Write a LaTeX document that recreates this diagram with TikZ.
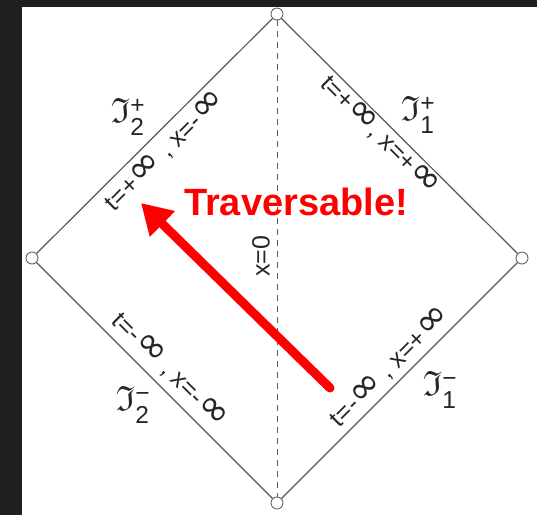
\documentclass[tikz,border=0pt]{standalone}
\usepackage{amsmath,amssymb}
\usepackage{fontspec}
\setmainfont{Liberation Sans}
\newfontfamily\symfam{DejaVu Sans}
\usetikzlibrary{arrows.meta}

% big infinity sign for the edge labels
\newcommand{\infy}{{\symfam\fontsize{39}{39}\selectfont ∞}}
\newcommand{\scri}{\mathfrak{I}}

\begin{document}
\begin{tikzpicture}[x=1pt, y=-1pt,
  vtx/.style={circle, draw=black!60, fill=white, line width=0.9pt, inner sep=0pt, minimum size=12pt},
  edge/.style={draw=black!65, line width=1.2pt},
  lbl/.style={font=\fontsize{25}{25}\selectfont, text=black!85, inner sep=0pt},
  scrilbl/.style={font=\fontsize{35}{35}\selectfont, text=black!85, inner sep=0pt}]

        % ==========================================
        % Background: dark frame, white sheet
        % ==========================================
        \fill[black!88] (0,0) rectangle (537,515);
        \fill[white] (22,7) rectangle (537,515);
        \useasboundingbox (0,0) rectangle (537,515);

        % ==========================================
        % Diamond and its corners
        % ==========================================
        \node[vtx] (top)    at (277,14)  {};
        \node[vtx] (right)  at (522,258) {};
        \node[vtx] (bottom) at (277,503) {};
        \node[vtx] (left)   at (32,258)  {};

        \draw[edge] (top) -- (right) -- (bottom) -- (left) -- (top);
        \draw[edge, line width=0.8pt, dash pattern=on 6pt off 5pt] (top) -- (bottom);
        \node[lbl, rotate=90] (xzero) at (261,256) {x=0};

        % ==========================================
        % Edge labels
        % ==========================================
        \node[lbl, rotate=45]  (ulab) at (165,151) {t=+\infy\ , x=-\infy};
        \node[lbl, rotate=-45] (rlab) at (380,135) {t=+\infy, x=+\infy};
        \node[lbl, rotate=-45] (llab) at (170,370) {t=-\infy\ , x=-\infy};
        \node[lbl, rotate=45]  (dlab) at (390,367) {t=-\infy\ , x=+\infy};

        % Scri labels
        \node[scrilbl] (s2p) at (128,117) {$\scri^{\text{+}}_{\text{2}}$};
        \node[scrilbl] (s1p) at (418,115) {$\scri^{\text{+}}_{\text{1}}$};
        \node[scrilbl] (s2m) at (133,405) {$\scri^{\text{−}}_{\text{2}}$};
        \node[scrilbl] (s1m) at (440,390) {$\scri^{\text{−}}_{\text{1}}$};

        % ==========================================
        % Red arrow and caption
        % ==========================================
        \node[font=\fontsize{38}{38}\selectfont\bfseries, text=red, inner sep=0pt, anchor=base] (trav) at (296,215) {Traversable!};
        \coordinate (tail) at (330,388);
        \coordinate (tip) at (141,203);
        \draw[red, line width=9pt, line cap=round, -{Triangle[length=30pt, width=34pt]}] (tail) -- (tip);

\end{tikzpicture}
\end{document}
